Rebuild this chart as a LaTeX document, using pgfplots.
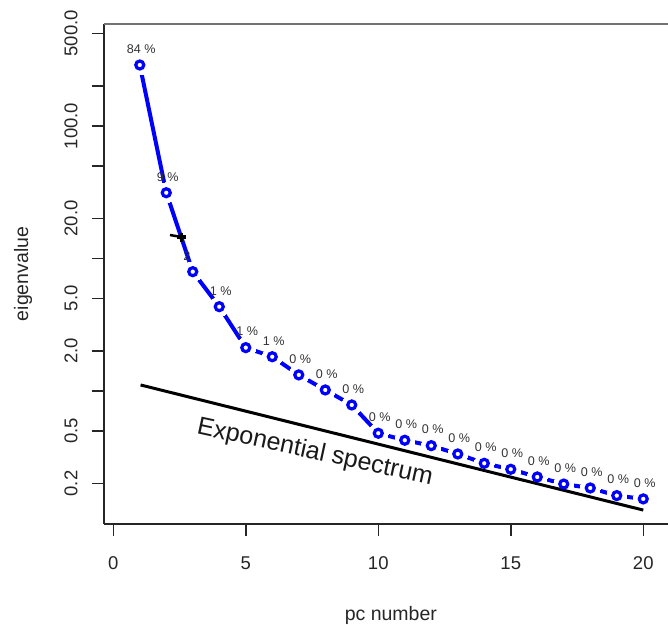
\documentclass[border=0pt]{standalone}
\usepackage{pgfplots}
\pgfplotsset{compat=1.18}
\usepackage{fontspec}
\setmainfont{Liberation Sans}
\pgfplotstableread{
x y lab
1 288.2 {84 \%}
2 31.3 {9 \%}
3 7.94 {2\phantom{ \%}}
4 4.32 {1 \%}
5 2.12 {1 \%}
6 1.81 {1 \%}
7 1.32 {0 \%}
8 1.016 {0 \%}
9 0.783 {0 \%}
10 0.479 {0 \%}
11 0.424 {0 \%}
12 0.386 {0 \%}
13 0.334 {0 \%}
14 0.284 {0 \%}
15 0.256 {0 \%}
16 0.224 {0 \%}
17 0.198 {0 \%}
18 0.185 {0 \%}
19 0.162 {0 \%}
20 0.153 {0 \%}
}\eig
\begin{document}
\begin{tikzpicture}[x=1pt,y=1pt]
\path[use as bounding box] (0,0) rectangle (668,624);
\begin{axis}[
  at={(104pt,100pt)}, anchor=south west,
  scale only axis, width=573.7pt, height=500pt,
  xmin=-0.35, xmax=21.3, ymode=log, ymin=0.0989, ymax=587.6,
  clip=false, clip marker paths=true,
  axis line style={draw=none},
  tick pos=left,
  xtick={0,5,10,15,20}, xticklabels={0,5,10,15,20},
  ytick={0.2,0.5,1,2,5,10,20,50,100,200,500},
  yticklabels={0.2,0.5,,2.0,5.0,,20.0,,100.0,,500.0},
  minor ytick={}, minor xtick={},
  tick align=outside, major tick length=12pt,
  tick style={black!85, line width=1.5pt},
  xticklabel style={font=\fontsize{18.5}{20}\selectfont, text=black!85, yshift=-17pt},
  yticklabel style={font=\fontsize{18.5}{20}\selectfont, text=black!85, xshift=-11pt, rotate=90, anchor=south},
  /pgf/number format/assume math mode=true,
  xlabel={pc number}, ylabel={eigenvalue},
  xlabel style={font=\fontsize{19.5}{21}\selectfont, text=black!85, at={(axis description cs:0.5,-0.182)}, anchor=center},
  ylabel style={font=\fontsize{19.5}{21}\selectfont, text=black!85, at={(axis description cs:-0.1412,0.5)}, anchor=center},
]
\draw[black!85, line width=2pt] (rel axis cs:0,0) -- (rel axis cs:0,1);
\draw[black!85, line width=2pt] (rel axis cs:0,0) -- (rel axis cs:1,0);
\draw[black!55, line width=2pt] (rel axis cs:0,1) -- (rel axis cs:1,1);
% blue line
\addplot[blue, line width=4pt, no marks] table[x=x,y=y] {\eig};
% white gaps around points
\addplot[only marks, draw=white, fill=white, mark=*, mark size=10pt, mark options={draw=white, fill=white, line width=0pt}] table[x=x,y=y] {\eig};
% exponential spectrum
\addplot[black, line width=3pt, no marks] coordinates {(1.03,1.108) (20,0.126)};
% blue circles
\addplot[only marks, mark=o, mark size=4pt, mark options={draw=blue, line width=3.2pt}] table[x=x,y=y] {\eig};
% percent labels
\addplot[only marks, mark=none,
  nodes near coords, point meta=explicit symbolic,
  every node near coord/.append style={anchor=center, yshift=16pt, xshift=1.5pt, font=\fontsize{12.6}{13}\selectfont, text=black!80}]
  table[x=x,y=y,meta=lab] {\eig};
% black mark near pc 3
\addplot[black, line width=2.5pt, no marks] coordinates {(2.14,15.0) (2.58,14.5)};
\addplot[only marks, mark=+, mark size=4.5pt, mark options={black, line width=3.5pt}] coordinates {(2.58,14.5)};
\node[rotate=-12.25, font=\fontsize{25}{27}\selectfont, text=black!90] at (axis cs:7.61,0.340) {Exponential spectrum};
\end{axis}
\end{tikzpicture}
\end{document}
